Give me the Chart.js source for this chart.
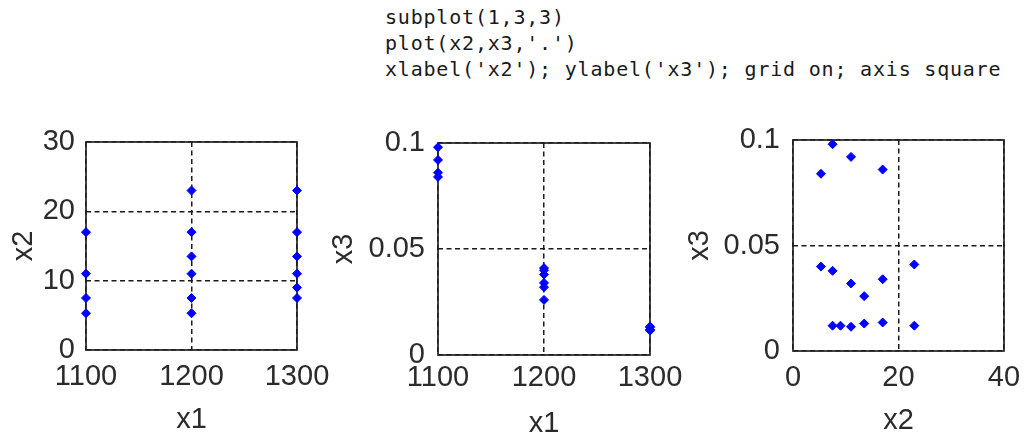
<!DOCTYPE html>
<html>
<head>
<meta charset="utf-8">
<script src="https://cdn.jsdelivr.net/npm/chart.js@4/dist/chart.umd.min.js"></script>
<style>
  html, body { margin: 0; padding: 0; background: #fff; }
  body { width: 1025px; height: 437px; position: relative; overflow: hidden; }
  #code {
    position: absolute; left: 385px; top: 4px; margin: 0;
    font-family: "DejaVu Sans Mono", monospace; font-size: 20px;
    letter-spacing: 0.8px; line-height: 26px; color: #1a1a1a;
  }
  canvas { position: absolute; }
</style>
</head>
<body>
<pre id="code">subplot(1,3,3)
plot(x2,x3,'.')
xlabel('x2'); ylabel('x3'); grid on; axis square</pre>
<canvas id="c1" width="345" height="337" style="left:0;top:100px"></canvas>
<canvas id="c2" width="370" height="337" style="left:320px;top:100px"></canvas>
<canvas id="c3" width="345" height="337" style="left:680px;top:100px"></canvas>
<script>
// data: temperature, ratio, contact time
const x1 = [1300, 1300, 1300, 1300, 1300, 1300, 1200, 1200, 1200, 1200, 1200, 1200, 1100, 1100, 1100, 1100];
const x2 = [7.5, 9.0, 11.0, 13.5, 17.0, 23.0, 5.3, 7.5, 11.0, 13.5, 17.0, 23.0, 5.3, 7.5, 11.0, 17.0];
const x3 = [0.012, 0.012, 0.0115, 0.013, 0.0135, 0.012, 0.040, 0.038, 0.032, 0.026, 0.034, 0.041, 0.084, 0.098, 0.092, 0.086];

// tick labels
const x1Ticks = [1100, 1200, 1300];
const x2Ticks = [0, 10, 20, 30];
const x2TicksWide = [0, 20, 40];
const x3Ticks = [0, 0.05, 0.1];

const FONT = { family: '"Liberation Sans", Arial, sans-serif', size: 29 };
const INK = '#2b2b2b';

// solid frame round the plot area (drawn under the markers)
const boxPlugin = {
  id: 'box',
  beforeDatasetsDraw(chart) {
    const a = chart.chartArea, ctx = chart.ctx;
    ctx.save();
    ctx.strokeStyle = '#222';
    ctx.lineWidth = 1.7;
    ctx.strokeRect(a.left, a.top, a.right - a.left, a.bottom - a.top);
    ctx.restore();
  }
};

function axis(ticks, title, o) {
  const horiz = o.horiz;
  return {
    type: 'linear',
    position: horiz ? 'bottom' : 'left',
    min: ticks[0],
    max: ticks[ticks.length - 1],
    afterBuildTicks: s => { s.ticks = ticks.map(v => ({ value: v })); },
    afterFit: s => {
      if (horiz) { s.height = o.size; s.paddingLeft = 0; s.paddingRight = 0; }
      else { s.width = o.size; s.paddingTop = 0; s.paddingBottom = 0; }
    },
    grid: { color: '#1a1a1a', lineWidth: 1.5, drawTicks: false },
    border: { display: false, dash: [5, 3.5] },
    ticks: {
      font: FONT, color: INK, padding: o.tickPad,
      autoSkip: false, maxRotation: 0, minRotation: 0,
      callback: v => String(v)
    },
    title: {
      display: true, text: title, color: INK,
      font: { family: FONT.family, size: 29, lineHeight: 0.8 },
      padding: horiz ? { top: 0, bottom: o.titlePad } : { top: o.titlePad, bottom: 0 }
    }
  };
}

function makePlot(id, xs, ys, cfg) {
  const pts = xs.map((v, i) => ({ x: v, y: ys[i] }));
  new Chart(document.getElementById(id), {
    type: 'scatter',
    data: {
      datasets: [{
        data: pts,
        pointStyle: 'rectRot',
        pointRadius: 4.5,
        backgroundColor: '#0000ff',
        borderColor: '#0000ff',
        borderWidth: 1,
        clip: false
      }]
    },
    options: {
      responsive: false,
      animation: false,
      devicePixelRatio: 1,
      layout: { padding: cfg.pad },
      scales: {
        x: axis(cfg.xTicks, cfg.xTitle, cfg.x),
        y: axis(cfg.yTicks, cfg.yTitle, cfg.y)
      },
      plugins: { legend: { display: false }, tooltip: { enabled: false } }
    },
    plugins: [boxPlugin]
  });
}

// subplot 1: x1 vs x2
makePlot('c1', x1, x2, {
  xTicks: x1Ticks, yTicks: x2Ticks, xTitle: 'x1', yTitle: 'x2',
  pad: { top: 42, right: 48, left: 0, bottom: 0 },
  x: { horiz: true, size: 87, tickPad: 10, titlePad: 5 },
  y: { horiz: false, size: 86, tickPad: 11, titlePad: 12 }
});

// subplot 2: x1 vs x3
makePlot('c2', x1, x3, {
  xTicks: x1Ticks, yTicks: x3Ticks, xTitle: 'x1', yTitle: 'x3',
  pad: { top: 43, right: 40, left: 0, bottom: 0 },
  x: { horiz: true, size: 82, tickPad: 6, titlePad: 1 },
  y: { horiz: false, size: 118, tickPad: 13, titlePad: 12 }
});

// subplot 3: x2 vs x3
makePlot('c3', x2, x3, {
  xTicks: x2TicksWide, yTicks: x3Ticks, xTitle: 'x2', yTitle: 'x3',
  pad: { top: 40, right: 21, left: 0, bottom: 0 },
  x: { horiz: true, size: 86, tickPad: 10, titlePad: 4 },
  y: { horiz: false, size: 113, tickPad: 13, titlePad: 8 }
});
</script>
</body>
</html>
